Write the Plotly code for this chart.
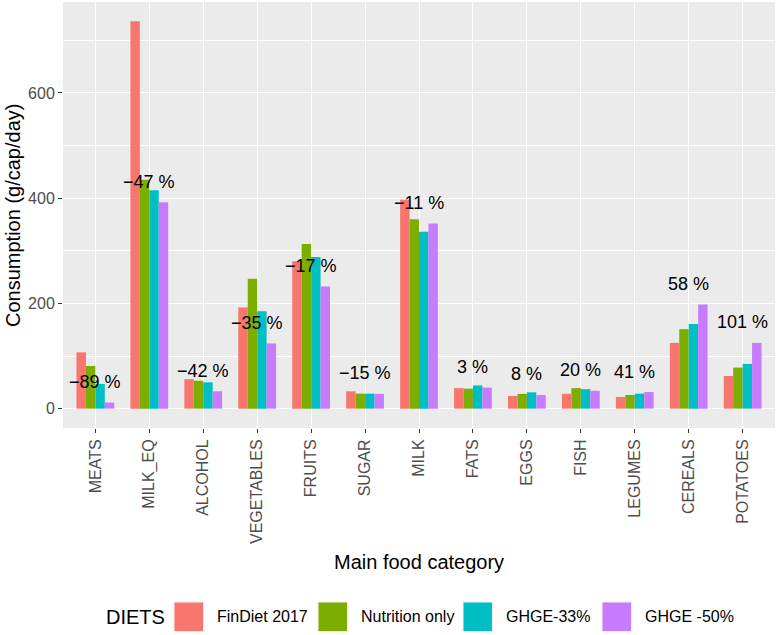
import plotly.graph_objects as go

CATEGORIES = ["MEATS", "MILK_EQ", "ALCOHOL", "VEGETABLES", "FRUITS", "SUGAR", "MILK",
              "FATS", "EGGS", "FISH", "LEGUMES", "CEREALS", "POTATOES"]
SERIES_NAMES = ["FinDiet 2017", "Nutrition only", "GHGE-33%", "GHGE -50%"]
FINDIET_2017 = [107, 736, 56, 192, 280, 33, 397, 39, 24, 28.3, 22.3, 125, 62]
NUTRITION_ONLY = [81, 435, 53, 247, 313, 28.5, 360, 38, 28, 39, 26, 151, 78]
GHGE_33 = [47, 415, 50, 185, 288, 28.5, 336, 44, 31, 37, 28.5, 161, 85]
GHGE_50 = [11.5, 392, 33, 124, 232, 28, 352, 40, 26, 34, 31.5, 198, 125]
PCT_LABELS = ["\u221289 %", "\u221247 %", "\u221242 %", "\u221235 %", "\u221217 %", "\u221215 %",
              "\u221211 %", "3 %", "8 %", "20 %", "41 %", "58 %", "101 %"]
COLORS = ["#F8766D", "#7CAE00", "#00BFC4", "#C77CFF"]
Y_TICKS = [0, 200, 400, 600]

SERIES = [FINDIET_2017, NUTRITION_ONLY, GHGE_33, GHGE_50]

W, H = 777, 635
ML, MR, MT, MB = 63, 2, 2, 207
PW = W - ML - MR
PH = H - MT - MB
FONT = "Liberation Sans, Arial, sans-serif"


def px_x(px):
    return (px - ML) / PW


def px_y(py):
    return (H - MB - py) / PH


fig = go.Figure()
for name, vals, col in zip(SERIES_NAMES, SERIES, COLORS):
    fig.add_trace(go.Bar(x=CATEGORIES, y=vals, name=name, marker=dict(color=col, line=dict(width=0)),
                         showlegend=False))

# percentage labels above the groups
for cat, lab, v in zip(CATEGORIES, PCT_LABELS, GHGE_50):
    fig.add_annotation(x=cat, y=v + 39, text=lab, showarrow=False, xref="x", yref="y",
                       font=dict(size=18, color="black", family=FONT), xanchor="center", yanchor="middle")

# axis titles
fig.add_annotation(x=px_x(13), y=px_y(216), xref="paper", yref="paper", text="Consumption (g/cap/day)",
                   textangle=-90, showarrow=False, font=dict(size=20, color="black", family=FONT),
                   xanchor="center", yanchor="middle")
fig.add_annotation(x=px_x(419), y=px_y(562), xref="paper", yref="paper", text="Main food category",
                   showarrow=False, font=dict(size=20, color="black", family=FONT),
                   xanchor="center", yanchor="middle")

# manual legend
fig.add_annotation(x=px_x(104), y=px_y(616.5), xref="paper", yref="paper", text="DIETS",
                   showarrow=False, font=dict(size=20, color="black", family=FONT),
                   xanchor="left", yanchor="middle")
key_lefts = [174, 318, 463, 602]
text_lefts = [215, 359, 504, 643]
for name, col, kl, tl in zip(SERIES_NAMES, COLORS, key_lefts, text_lefts):
    fig.add_shape(type="rect", xref="paper", yref="paper", x0=px_x(kl), x1=px_x(kl + 29.5),
                  y0=px_y(631.5), y1=px_y(602), fillcolor=col, line=dict(width=1, color="#F2F2F2"))
    fig.add_annotation(x=px_x(tl), y=px_y(616.5), xref="paper", yref="paper", text=name,
                       showarrow=False, font=dict(size=16, color="black", family=FONT),
                       xanchor="left", yanchor="middle")

fig.update_layout(
    width=W, height=H,
    margin=dict(l=ML, r=MR, t=MT, b=MB, pad=0),
    paper_bgcolor="white", plot_bgcolor="#EBEBEB",
    barmode="group", bargap=0.3, bargroupgap=0,
    font=dict(family=FONT, color="#4D4D4D", size=16),
    xaxis=dict(range=[-0.6, 12.6], tickangle=-90, showgrid=True, gridcolor="white", gridwidth=1.4,
               ticks="outside", ticklen=4, tickwidth=1.2, tickcolor="#333333", zeroline=False,
               tickfont=dict(size=16, color="#4D4D4D", family=FONT), showline=False,
               categoryorder="array", categoryarray=CATEGORIES),
    yaxis=dict(range=[-36.8, 772.8], tickvals=Y_TICKS, showgrid=True, gridcolor="white", gridwidth=1.4,
               ticks="outside", ticklen=4, tickwidth=1.2, tickcolor="#333333", zeroline=False,
               tickfont=dict(size=16, color="#4D4D4D", family=FONT), showline=False,
               minor=dict(tickvals=[100, 300, 500, 700], showgrid=True, gridcolor="white", gridwidth=0.7,
                          ticks="")),
)

fig.write_html("out.html")
